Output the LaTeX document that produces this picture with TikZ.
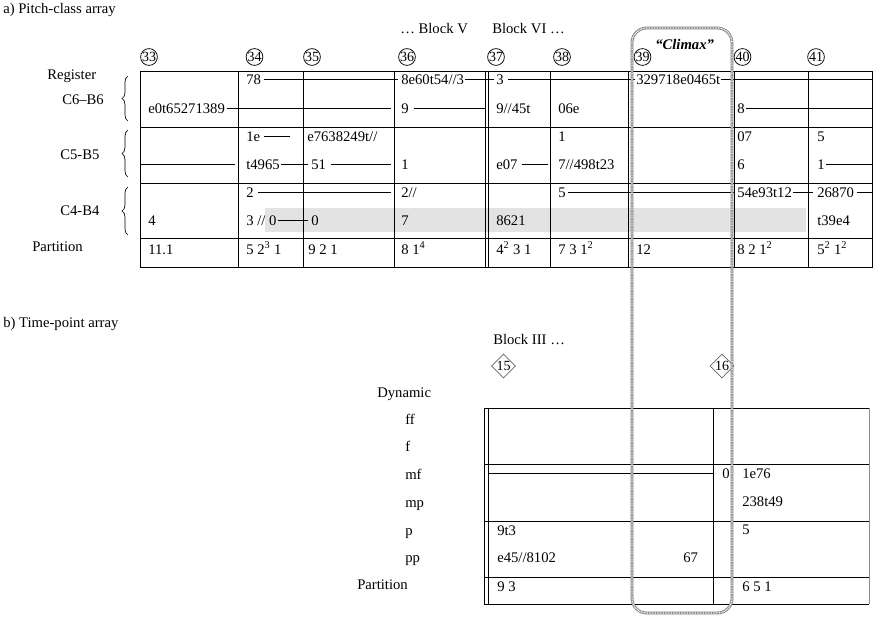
\documentclass[tikz,border=0pt]{standalone}
\usepackage{fontspec}
\setmainfont{Liberation Serif}
\usetikzlibrary{shapes.geometric,decorations.pathreplacing}
\begin{document}
\begin{tikzpicture}[x=0.75pt,y=-0.75pt,
  txt/.style={anchor=base west,inner sep=0pt,font=\fontsize{11}{13}\selectfont},
  grid/.style={line width=0.7pt},
  conn/.style={line width=0.7pt},
  circnum/.style={circle,draw,line width=0.55pt,inner sep=0pt,minimum size=12.2pt,font=\fontsize{10.5}{10}\selectfont},
  dianum/.style={diamond,draw=black!60,line width=0.55pt,inner sep=0pt,minimum size=18pt,font=\fontsize{10.5}{10}\selectfont},
  rbrace/.style={decorate,decoration={brace,amplitude=4.5pt},line width=0.5pt},
  climaxout/.style={draw=black!50,line width=2.1pt,rounded corners=11pt},
  climaxin/.style={draw=white,line width=1.0pt,dash pattern=on 0.6pt off 0.6pt,rounded corners=11pt},
  band/.style={fill=black!11}
]
\useasboundingbox (0,0) rectangle (885,622);

% ---------------- a) Pitch-class array ----------------
\node[txt] (lblA) at (3,13) {a) Pitch-class array};
\node[txt] (blkV) at (400,33) {… Block V};
\node[txt] (blkVI) at (492,33) {Block VI …};
\node[txt,font=\fontsize{11}{13}\selectfont\bfseries\itshape] (climax) at (655,49) {“Climax”};

\node[circnum] (c33) at (149,57) {33};
\node[circnum] (c34) at (254.5,57) {34};
\node[circnum] (c35) at (312,57) {35};
\node[circnum] (c36) at (407,57) {36};
\node[circnum] (c37) at (496,57) {37};
\node[circnum] (c38) at (562,57) {38};
\node[circnum] (c39) at (642.5,57) {39};
\node[circnum] (c40) at (742.5,57) {40};
\node[circnum] (c41) at (816,57) {41};

\node[txt] (register) at (47,79) {Register};
\node[txt] (regC6) at (62,104) {C6–B6};
\node[txt] (regC5) at (60,159) {C5-B5};
\node[txt] (regC4) at (60,215) {C4-B4};
\node[txt] (partA) at (32,251) {Partition};

\draw[rbrace] (128,121) -- (128,76);
\draw[rbrace] (128,177) -- (128,130);
\draw[rbrace] (128,235) -- (128,187);

% grey band
\fill[band] (265,208) rectangle (806,232);

% table grid
\draw[grid] (140,71) rectangle (872,267);
\foreach \yy in {127,183,238} \draw[grid] (140,\yy) -- (872,\yy);
\foreach \xx in {238.7,303.3,394.3,485,488,550.3,628,734,808} \draw[grid] (\xx,71) -- (\xx,267);

% cell texts
\node[txt] (r1a34) at (246,84) {78};
\node[txt] (r1a36) at (401,84) {8e60t54//3};
\node[txt] (r1a37) at (496,84) {3};
\node[txt] (r1a39) at (636,84) {329718e0465t};
\node[txt] (r1b33) at (148,113) {e0t65271389};
\node[txt] (r1b36) at (401,113) {9};
\node[txt] (r1b37) at (496,113) {9//45t};
\node[txt] (r1b38) at (558,113) {06e};
\node[txt] (r1b40) at (737,113) {8};

\node[txt] (r2a34) at (246,141) {1e};
\node[txt] (r2a35) at (307,141) {e7638249t//};
\node[txt] (r2a38) at (558,141) {1};
\node[txt] (r2a40) at (737,141) {07};
\node[txt] (r2a41) at (817,141) {5};
\node[txt] (r2b34) at (246,169) {t4965};
\node[txt] (r2b35) at (311,169) {51};
\node[txt] (r2b36) at (401,169) {1};
\node[txt] (r2b37) at (496,169) {e07};
\node[txt] (r2b38) at (558,169) {7//498t23};
\node[txt] (r2b40) at (737,169) {6};
\node[txt] (r2b41) at (817,169) {1};

\node[txt] (r3a34) at (246,197) {2};
\node[txt] (r3a36) at (401,197) {2//};
\node[txt] (r3a38) at (558,197) {5};
\node[txt] (r3a40) at (737,197) {54e93t12};
\node[txt] (r3a41) at (817,197) {26870};
\node[txt] (r3b33) at (148,225) {4};
\node[txt] (r3b34) at (246,225) {3 // 0};
\node[txt] (r3b35) at (311,225) {0};
\node[txt] (r3b36) at (401,225) {7};
\node[txt] (r3b37) at (496,225) {8621};
\node[txt] (r3b41) at (817,225) {t39e4};

\node[txt] (p33) at (148,254) {11.1};
\node[txt] (p34) at (246,254) {5 2\textsuperscript{3} 1};
\node[txt] (p35) at (308,254) {9 2 1};
\node[txt] (p36) at (401,254) {8 1\textsuperscript{4}};
\node[txt] (p37) at (496,254) {4\textsuperscript{2} 3 1};
\node[txt] (p38) at (558,254) {7 3 1\textsuperscript{2}};
\node[txt] (p39) at (636,254) {12};
\node[txt] (p40) at (737,254) {8 2 1\textsuperscript{2}};
\node[txt] (p41) at (817,254) {5\textsuperscript{2} 1\textsuperscript{2}};

% free ends of connectors
\coordinate (rEa) at (872,79.5);
\coordinate (fE1) at (391,108.5);
\coordinate (fE2) at (485,108.5);
\coordinate (rEb) at (872,108.5);
\coordinate (fE3) at (290,136.5);
\coordinate (fS4) at (140,164.5);
\coordinate (fE4) at (235,164.5);
\coordinate (fE5) at (391,164.5);
\coordinate (fE6) at (548,164.5);
\coordinate (rEc) at (872,164.5);
\coordinate (fE7) at (391,192.5);
\coordinate (rEd) at (872,192.5);

% connectors
\draw[conn] ([shift={(3,-4.5)}]r1a34.base east) -- ([shift={(-3,-4.5)}]r1a36.base west);
\draw[conn] ([shift={(1,-4.5)}]r1a36.base east) -- ([shift={(-2,-4.5)}]r1a37.base west);
\draw[conn] ([shift={(4,-4.5)}]r1a37.base east) -- ([shift={(-1,-4.5)}]r1a39.base west);
\draw[conn] ([shift={(1,-4.5)}]r1a39.base east) -- (rEa);
\draw[conn] ([shift={(2,-4.5)}]r1b33.base east) -- (fE1);
\draw[conn] ([shift={(5,-4.5)}]r1b36.base east) -- (fE2);
\draw[conn] ([shift={(1,-4.5)}]r1b40.base east) -- (rEb);
\draw[conn] ([shift={(4,-4.5)}]r2a34.base east) -- (fE3);
\draw[conn] (fS4) -- (fE4);
\draw[conn] ([shift={(1,-4.5)}]r2b34.base east) -- ([shift={(-3,-4.5)}]r2b35.base west);
\draw[conn] ([shift={(5,-4.5)}]r2b35.base east) -- (fE5);
\draw[conn] ([shift={(4,-4.5)}]r2b37.base east) -- (fE6);
\draw[conn] ([shift={(1,-4.5)}]r2b41.base east) -- (rEc);
\draw[conn] ([shift={(4,-4.5)}]r3a34.base east) -- (fE7);
\draw[conn] ([shift={(2,-4.5)}]r3a38.base east) -- ([shift={(-2,-4.5)}]r3a40.base west);
\draw[conn] ([shift={(1,-4.5)}]r3a40.base east) -- ([shift={(-4,-4.5)}]r3a41.base west);
\draw[conn] ([shift={(3,-4.5)}]r3a41.base east) -- (rEd);
\draw[conn] ([shift={(1,-4.5)}]r3b34.base east) -- ([shift={(-3,-4.5)}]r3b35.base west);

% ---------------- b) Time-point array ----------------
\node[txt] (lblB) at (3,327) {b) Time-point array};
\node[txt] (blkIII) at (493,344) {Block III …};
\node[dianum] (d15) at (503.5,366) {15};
\node[dianum] (d16) at (722,366) {16};

\node[txt] (dyn) at (377,397) {Dynamic};
\node[txt] (dff) at (405,424) {ff};
\node[txt] (df) at (405,451) {f};
\node[txt] (dmf) at (405,479) {mf};
\node[txt] (dmp) at (405,507) {mp};
\node[txt] (dp) at (405,535) {p};
\node[txt] (dpp) at (405,562) {pp};
\node[txt] (partB) at (357,589) {Partition};

\draw[grid] (484,408) -- (484,604);
\draw[grid] (488,408) -- (488,604);
\foreach \yy in {408,464,521,577,604} \draw[grid] (484,\yy) -- (869,\yy);
\draw[grid] (713,408) -- (713,604);
\draw[line width=0.7pt,black!45] (869,408) -- (869,604);

\node[txt] (b9t3) at (497,535) {9t3};
\node[txt] (be45) at (497,562) {e45//8102};
\node[txt] (b93) at (497,591) {9 3};
\node[txt] (b0) at (722,478) {0};
\node[txt] (b1e76) at (742,478) {1e76};
\node[txt] (b238) at (742,506) {238t49};
\node[txt] (b5) at (742,534) {5};
\node[txt] (b67) at (683,562) {67};
\node[txt] (b651) at (742,591) {6 5 1};

\coordinate (bS) at (488,473.5);
\draw[conn] (bS) -- ([shift={(-9,-4.5)}]b0.base west);

% climax box
\draw[climaxout] (632,28) rectangle (732,613);
\draw[climaxin] (632,28) rectangle (732,613);
\end{tikzpicture}
\end{document}
